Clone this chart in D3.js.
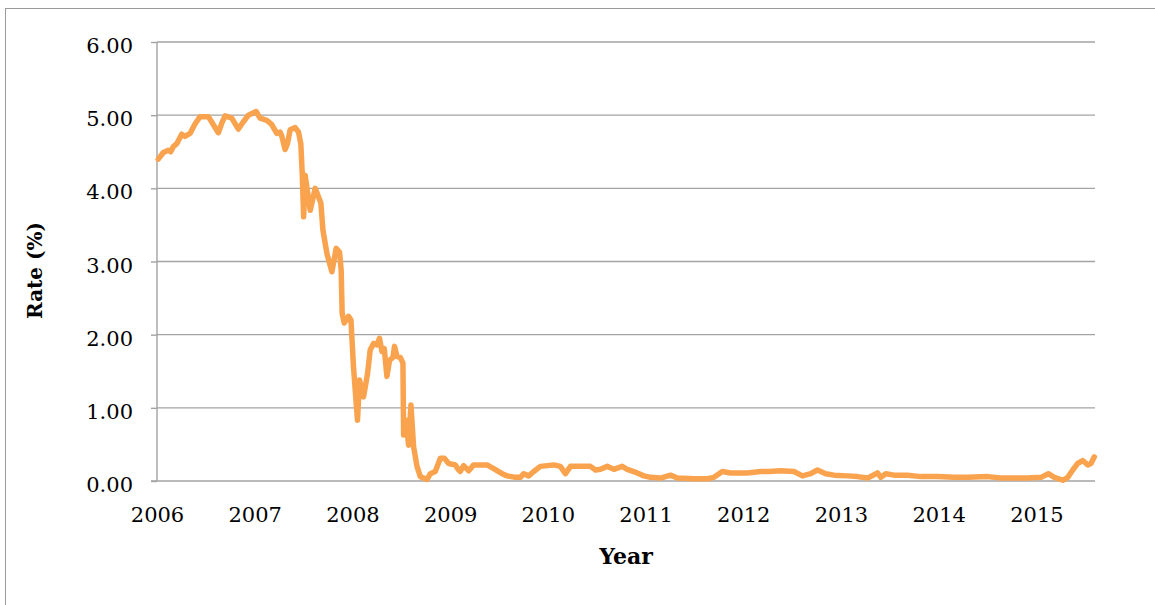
<!DOCTYPE html>
<html>
<head>
<meta charset="utf-8">
<script src="https://cdn.jsdelivr.net/npm/d3@7/dist/d3.min.js"></script>
<style>
  html, body { margin: 0; padding: 0; background: #fff; }
  svg { display: block; }
</style>
</head>
<body>
<svg id="chart" width="1155" height="605"></svg>
<script>
// Decimal year of each observation
const years = [
  2006.013, 2006.065, 2006.116, 2006.140, 2006.167, 2006.202, 2006.253, 2006.287, 2006.338, 2006.389,
  2006.441, 2006.526, 2006.577, 2006.628, 2006.663, 2006.697, 2006.765, 2006.833, 2006.884, 2006.935,
  2007.014, 2007.055, 2007.124, 2007.175, 2007.226, 2007.260, 2007.278, 2007.311, 2007.335, 2007.363,
  2007.414, 2007.448, 2007.472, 2007.486, 2007.501, 2007.516, 2007.568, 2007.619, 2007.677, 2007.698,
  2007.739, 2007.790, 2007.834, 2007.868, 2007.885, 2007.895, 2007.916, 2007.960, 2007.985, 2008.011,
  2008.052, 2008.073, 2008.114, 2008.155, 2008.182, 2008.216, 2008.251, 2008.277, 2008.302, 2008.326,
  2008.353, 2008.380, 2008.415, 2008.431, 2008.456, 2008.490, 2008.517, 2008.524, 2008.548, 2008.575,
  2008.599, 2008.626, 2008.661, 2008.695, 2008.763, 2008.797, 2008.848, 2008.900, 2008.941, 2008.985,
  2009.053, 2009.087, 2009.104, 2009.138, 2009.190, 2009.241, 2009.378, 2009.446, 2009.532, 2009.583,
  2009.668, 2009.719, 2009.753, 2009.804, 2009.856, 2009.924, 2009.993, 2010.060, 2010.129, 2010.180,
  2010.232, 2010.334, 2010.436, 2010.488, 2010.539, 2010.608, 2010.676, 2010.761, 2010.812, 2010.915,
  2010.983, 2011.051, 2011.154, 2011.256, 2011.325, 2011.495, 2011.632, 2011.700, 2011.786, 2011.871,
  2012.042, 2012.178, 2012.263, 2012.383, 2012.519, 2012.606, 2012.691, 2012.759, 2012.844, 2012.929,
  2013.067, 2013.169, 2013.272, 2013.374, 2013.408, 2013.459, 2013.544, 2013.681, 2013.818, 2013.989,
  2014.159, 2014.296, 2014.501, 2014.637, 2014.774, 2014.911, 2015.047, 2015.122, 2015.184, 2015.270,
  2015.321, 2015.372, 2015.423, 2015.474, 2015.526, 2015.559, 2015.593
];
// Rate (%) at each observation
const rates = [
  4.40, 4.49, 4.52, 4.50, 4.57, 4.61, 4.74, 4.71, 4.75, 4.88,
  4.98, 4.98, 4.87, 4.76, 4.89, 4.99, 4.96, 4.81, 4.91, 5.00,
  5.05, 4.96, 4.93, 4.87, 4.75, 4.77, 4.71, 4.53, 4.61, 4.80,
  4.83, 4.77, 4.61, 4.21, 3.61, 4.18, 3.70, 4.00, 3.80, 3.43,
  3.11, 2.86, 3.18, 3.13, 2.88, 2.29, 2.16, 2.25, 2.20, 1.56,
  0.83, 1.38, 1.15, 1.47, 1.79, 1.88, 1.86, 1.95, 1.77, 1.81,
  1.43, 1.65, 1.69, 1.84, 1.70, 1.69, 1.61, 0.63, 0.83, 0.49,
  1.04, 0.47, 0.20, 0.06, 0.02, 0.10, 0.13, 0.31, 0.31, 0.24,
  0.22, 0.15, 0.13, 0.21, 0.14, 0.22, 0.22, 0.17, 0.10, 0.07,
  0.05, 0.05, 0.10, 0.07, 0.13, 0.20, 0.21, 0.22, 0.20, 0.10,
  0.20, 0.20, 0.20, 0.15, 0.16, 0.20, 0.16, 0.20, 0.16, 0.11,
  0.07, 0.05, 0.04, 0.08, 0.04, 0.03, 0.03, 0.05, 0.13, 0.11,
  0.11, 0.13, 0.13, 0.14, 0.13, 0.07, 0.10, 0.15, 0.10, 0.08,
  0.07, 0.06, 0.04, 0.11, 0.05, 0.10, 0.08, 0.08, 0.06, 0.06,
  0.05, 0.05, 0.06, 0.04, 0.04, 0.04, 0.05, 0.10, 0.05, 0.01,
  0.05, 0.15, 0.24, 0.28, 0.22, 0.24, 0.33
];
const xTickYears = [2006, 2007, 2008, 2009, 2010, 2011, 2012, 2013, 2014, 2015];
const yTicks = [0, 1, 2, 3, 4, 5, 6];
const xTitle = "Year";
const yTitle = "Rate (%)";

const data = years.map((yr, i) => ({ t: yr, v: rates[i] }));

const svg = d3.select("#chart");
const pLeft = 157, pRight = 1095, pTop = 42, pBottom = 481;
const x = d3.scaleLinear().domain([2006, 2015.6]).range([pLeft, pRight]);
const y = d3.scaleLinear().domain([0, 6]).range([pBottom, pTop]);

const gridColor = "#A3A3A3";
const font = "'DejaVu Serif', serif";

// outer frame
svg.append("rect")
  .attr("x", 5.5).attr("y", 8.5)
  .attr("width", 1170).attr("height", 640)
  .attr("fill", "none").attr("stroke", "#9a9a9a").attr("stroke-width", 1);

// gridlines
svg.append("g").selectAll("line")
  .data(yTicks.filter(d => d > 0))
  .join("line")
  .attr("x1", pLeft).attr("x2", pRight)
  .attr("y1", d => y(d)).attr("y2", d => y(d))
  .attr("stroke", gridColor).attr("stroke-width", 1.4);

// y axis
const yAxis = d3.axisLeft(y).tickValues(yTicks).tickSize(6).tickPadding(18)
  .tickFormat(d3.format(".2f"));
const gy = svg.append("g").attr("transform", `translate(${pLeft},0)`).call(yAxis);
gy.select(".domain").attr("stroke", gridColor).attr("stroke-width", 1.4).attr("d", `M0,${pTop}V${pBottom}`);
gy.selectAll(".tick line").attr("stroke", gridColor).attr("stroke-width", 1.4);
gy.selectAll(".tick text")
  .attr("font-family", font).attr("font-size", 21).attr("fill", "#000").attr("dy", "0.5em");

// x axis
const xAxis = d3.axisBottom(x).tickValues(xTickYears).tickSize(0).tickPadding(26)
  .tickFormat(d3.format("d"));
const gx = svg.append("g").attr("transform", `translate(0,${pBottom})`).call(xAxis);
gx.select(".domain").attr("stroke", gridColor).attr("stroke-width", 1.4).attr("d", `M${pLeft - 6},0H${pRight}`);
gx.selectAll(".tick text")
  .attr("font-family", font).attr("font-size", 21).attr("fill", "#000");

// line
const line = d3.line().x(d => x(d.t)).y(d => y(d.v));
svg.append("path")
  .datum(data)
  .attr("d", line)
  .attr("fill", "none")
  .attr("stroke", "#F9A34F")
  .attr("stroke-width", 5.5)
  .attr("stroke-linejoin", "round")
  .attr("stroke-linecap", "round");

// titles
svg.append("text")
  .attr("x", (pLeft + pRight) / 2).attr("y", 564)
  .attr("text-anchor", "middle")
  .attr("font-family", font).attr("font-weight", "bold").attr("font-size", 22)
  .text(xTitle);

svg.append("text")
  .attr("transform", `translate(42,${(pTop + pBottom) / 2 + 9}) rotate(-90)`)
  .attr("text-anchor", "middle")
  .attr("font-family", font).attr("font-weight", "bold").attr("font-size", 20)
  .text(yTitle);
</script>
</body>
</html>
